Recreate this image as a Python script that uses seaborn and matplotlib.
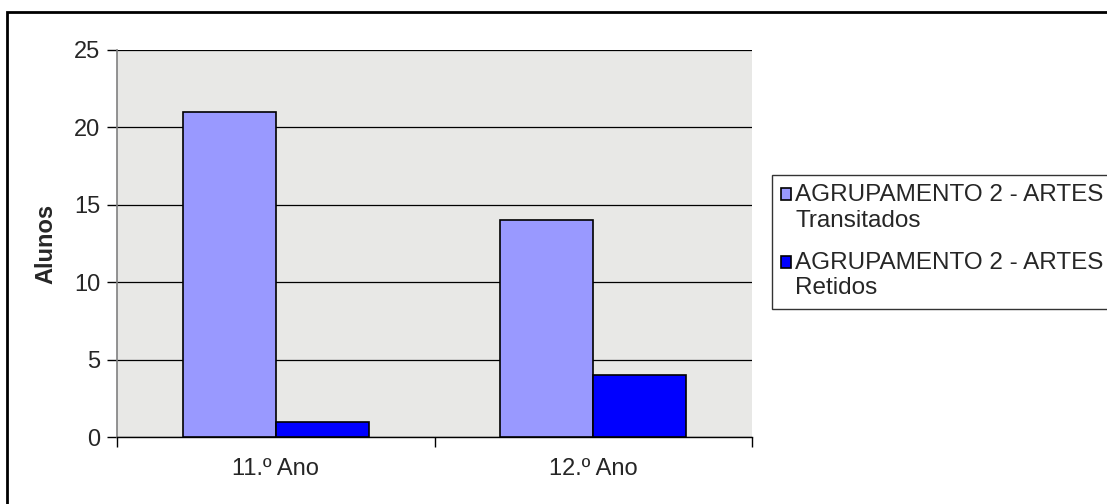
import pandas as pd
import matplotlib.pyplot as plt
import seaborn as sns
from matplotlib.patches import Rectangle
from matplotlib.ticker import FixedLocator

# --------------------------------------------------
# data
# --------------------------------------------------
anos = ["11.º Ano", "12.º Ano"]
transitados = [21, 14]
retidos = [1, 4]
series_names = ["AGRUPAMENTO 2 - ARTES\nTransitados",
                "AGRUPAMENTO 2 - ARTES\nRetidos"]
colors = ["#9999ff", "#0000ff"]
y_ticks = [0, 5, 10, 15, 20, 25]

df = pd.DataFrame({
    "Ano": anos * 2,
    "Alunos": transitados + retidos,
    "Serie": [series_names[0]] * len(anos) + [series_names[1]] * len(anos),
})

sns.set_style("white")
plt.rcParams["font.family"] = ["Liberation Sans", "DejaVu Sans"]

fig = plt.figure(figsize=(11.07, 5.04), dpi=100)
ax = fig.add_axes([117 / 1107, 1 - 437 / 504, 635 / 1107, 387 / 504])

sns.barplot(data=df, x="Ano", y="Alunos", hue="Serie", palette=colors,
            width=0.585, edgecolor="black", linewidth=1.2, saturation=1,
            ax=ax, zorder=3)

ax.set_facecolor("#e8e8e6")
ax.set_xlim(-0.5, 1.5)
ax.set_ylim(0, 25)
ax.set_yticks(y_ticks)
ax.yaxis.grid(True, color="black", linewidth=0.9, zorder=1)
ax.set_axisbelow(True)

# x ticks sit on category borders, labels in the middle
ax.xaxis.set_minor_locator(FixedLocator([-0.5, 0.5, 1.5]))
ax.tick_params(axis="x", which="major", length=0, pad=15, labelsize=17)
ax.tick_params(axis="x", which="minor", length=7, width=1, color="black",
               direction="out", bottom=True)
ax.tick_params(axis="y", length=7, width=1, color="black", direction="out",
               left=True, labelsize=17, pad=5)

for side in ["top", "right"]:
    ax.spines[side].set_visible(False)
ax.spines["left"].set_color("#808080")
ax.spines["left"].set_linewidth(1.2)
ax.spines["bottom"].set_color("black")
ax.spines["bottom"].set_linewidth(1)

ax.set_xlabel("")
ax.set_ylabel("Alunos", fontsize=17, fontweight="bold", labelpad=12)

leg = ax.legend(loc="upper left", bbox_to_anchor=(772 / 1107, 1 - 175 / 504),
                bbox_transform=fig.transFigure, frameon=True, fontsize=17.5,
                handlelength=0.4, handleheight=0.4, handletextpad=0.18,
                borderpad=0.38, borderaxespad=0, labelspacing=0.84,
                fancybox=False)
leg.get_frame().set_edgecolor("black")
leg.get_frame().set_linewidth(1)
# put the colour box beside the first line of each label
for h in leg.legend_handles:
    h.set_y(h.get_y() + 10)

# outer chart border
fig.patches.append(Rectangle((7 / 1107, -0.05), 1.2, 0.05 + 1 - 12 / 504,
                             transform=fig.transFigure, fill=False,
                             edgecolor="black", linewidth=2))

fig.savefig("out.png", dpi=100)
